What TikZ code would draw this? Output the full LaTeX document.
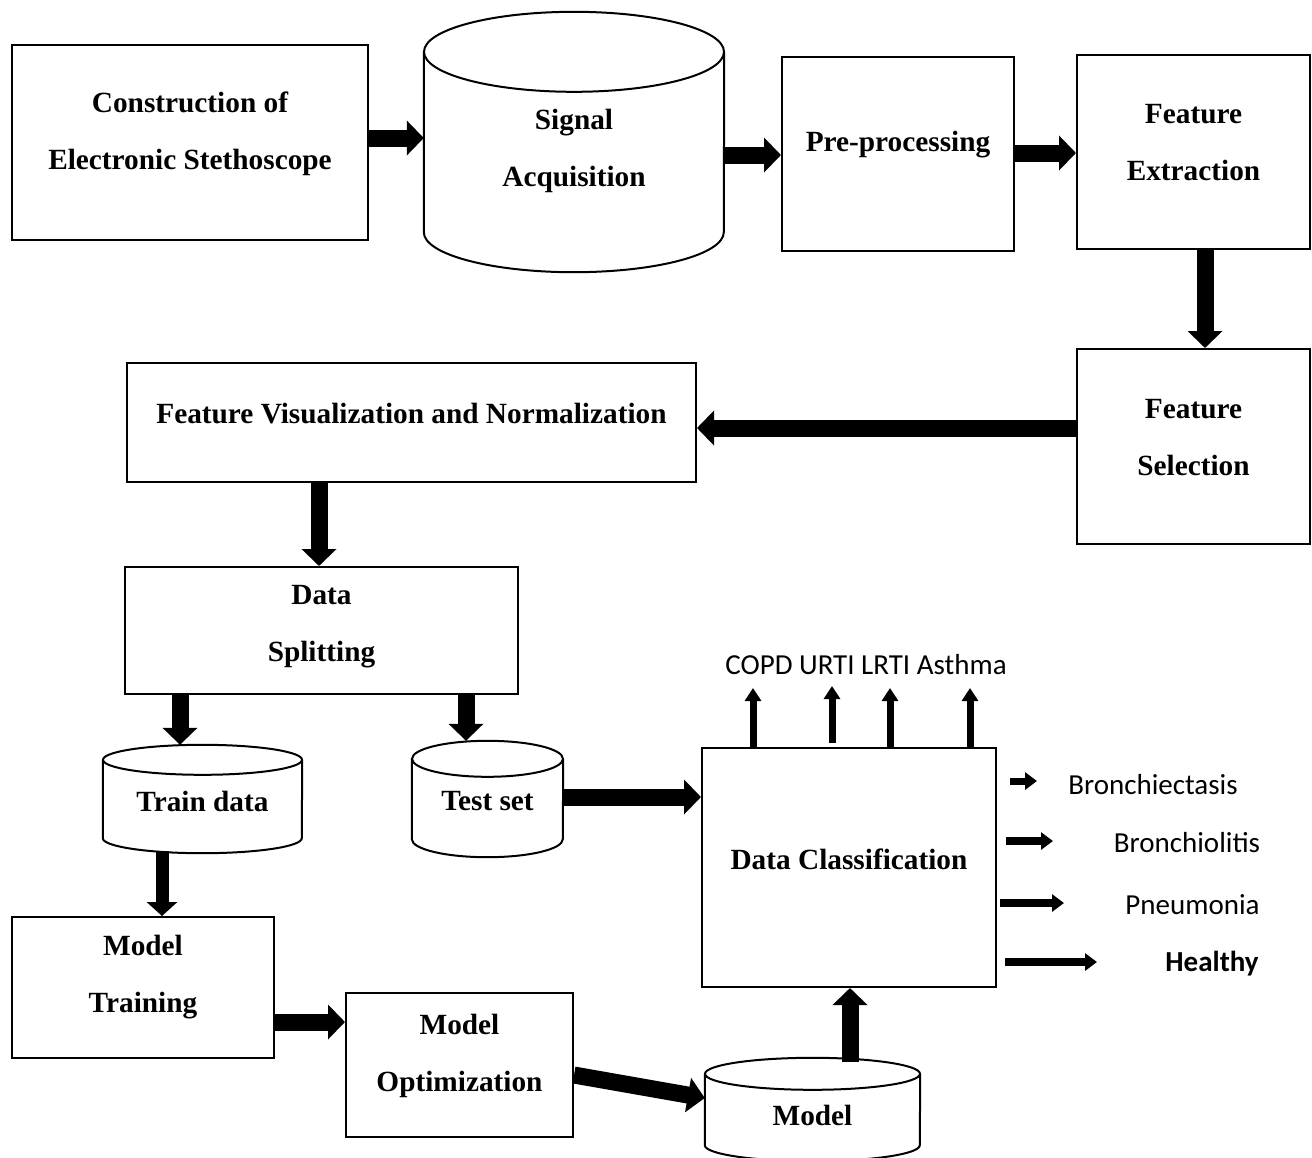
\documentclass[tikz,border=0pt]{standalone}
\usepackage{fontspec}
\setmainfont{Liberation Serif}
\newfontfamily\calfont{Carlito}
\usetikzlibrary{arrows.meta}
\newcommand\mycyl[3]{% name, ry, rx
  \draw[line width=2pt] ([yshift=-#2]#1.north west) -- ([yshift=#2]#1.south west)
    arc[start angle=180,end angle=360,x radius=#3,y radius=#2] -- ([yshift=-#2]#1.north east);
  \draw[line width=2pt] ([yshift=-#2]#1.north) ellipse [x radius=#3,y radius=#2];
}
\begin{document}
\begin{tikzpicture}[x=1pt,y=-1pt,
  box/.style={draw, line width=2pt, inner sep=0pt},
  ghost/.style={inner sep=0pt},
  txt/.style={font=\fontsize{29.3}{57}\selectfont\bfseries, align=center, inner sep=0pt},
  lab/.style={font=\fontsize{29}{34}\selectfont\calfont, inner sep=0pt, text height=18.5pt, text depth=0pt},
  blk/.style={line width=17pt, -{Triangle[width=34pt,length=17pt]}},
  blks/.style={line width=13pt, -{Triangle[width=30pt,length=14pt]}},
  upar/.style={line width=7pt, -{Triangle[width=16pt,length=13pt]}},
  rtar/.style={line width=8pt, -{Triangle[width=17pt,length=12pt]}},
]
\useasboundingbox[fill=white] (0,0) rectangle (1312,1157);

% boxes
\node[box, minimum width=356pt, minimum height=195pt] (cons) at (190,142.5) {};
\node[ghost, minimum width=300pt, minimum height=260pt] (sig) at (574,142) {};
\node[box, minimum width=232pt, minimum height=194pt] (pre) at (898,154) {};
\node[box, minimum width=233pt, minimum height=194pt] (fe) at (1193.5,152) {};
\node[box, minimum width=233pt, minimum height=195pt] (fs) at (1193.5,446.5) {};
\node[box, minimum width=569pt, minimum height=119pt] (fv) at (411.5,422.5) {};
\node[box, minimum width=393pt, minimum height=127pt] (ds) at (321.5,630.5) {};
\node[ghost, minimum width=199pt, minimum height=108pt] (train) at (202.5,799) {};
\node[ghost, minimum width=151pt, minimum height=116pt] (test) at (487.5,799) {};
\node[box, minimum width=294pt, minimum height=239pt] (dc) at (849,867.5) {};
\node[box, minimum width=262pt, minimum height=141pt] (mt) at (143,987.5) {};
\node[box, minimum width=227pt, minimum height=144pt] (mo) at (459.5,1065) {};
\node[ghost, minimum width=215pt, minimum height=103pt] (model) at (812.5,1109.5) {};

\mycyl{sig}{40pt}{150pt}
\mycyl{train}{15pt}{99.5pt}
\mycyl{test}{18pt}{75.5pt}
\mycyl{model}{16pt}{107.5pt}

% texts
\node[txt] (consT) at (190,134) {Construction of\\Electronic Stethoscope};
\node[txt] (sigT) at (574,151) {Signal\\Acquisition};
\node[txt] (preT) at (898,145) {Pre-processing};
\node[txt] (feT) at (1193.5,143) {Feature\\Extraction};
\node[txt] (fsT) at (1193.5,438) {Feature\\Selection};
\node[txt] (fvT) at (411.5,414) {Feature Visualization and Normalization};
\node[txt] (dsT) at (321.5,627) {Data\\Splitting};
\node[txt] (trainT) at (202.5,801) {Train data};
\node[txt] (testT) at (487.5,801) {Test set};
\node[txt] (dcT) at (849,859) {Data Classification};
\node[txt] (mtT) at (143,977) {Model\\Training};
\node[txt] (moT) at (459.5,1056) {Model\\Optimization};
\node[txt] (modelT) at (812.5,1115) {Model};

% class labels
\node[lab] (top) at (866,665) {COPD URTI LRTI Asthma};
\node[lab] (b1) at (1153,785) {Bronchiectasis};
\node[lab] (b2) at (1187,843) {Bronchiolitis};
\node[lab] (b3) at (1192.5,905) {Pneumonia};
\node[lab] (b4) at (1212,962) {\bfseries Healthy};

% main arrows
\draw[blk] (cons.east |- 0,138) -- (sig.west |- 0,138);
\draw[blk] (sig.east |- 0,155) -- (pre.west |- 0,155);
\draw[blk] (pre.east |- 0,153) -- (fe.west |- 0,153);
\draw[blk] (fe.south -| 1205,0) -- (fs.north -| 1205,0);
\draw[blk] (fs.west |- 0,428) -- (fv.east |- 0,428);
\draw[blk] (fv.south -| 319,0) -- (ds.north -| 319,0);
\draw[blk] (ds.south -| 180,0) -- (train.north -| 180,0);
\draw[blk] (ds.south -| 466,0) -- (test.north -| 466,0);
\draw[blks] ([yshift=2pt]train.south -| 162,0) -- (mt.north -| 162,0);
\draw[blk] (test.east |- 0,797) -- (dc.west |- 0,797);
\draw[blk] (mt.east |- 0,1022) -- (mo.west |- 0,1022);
\draw[blk] (mo.east |- 0,1075) -- (model.west |- 0,1098);
\draw[blk] ([yshift=-4pt]model.north -| 850,0) -- (dc.south -| 850,0);

% up arrows
\coordinate (u1) at (753,688);
\coordinate (u2) at (832,686);
\coordinate (u3) at (890,688);
\coordinate (u4) at (970,688);
\draw[upar] (dc.north -| u1) -- (u1);
\draw[upar] ([yshift=4pt]dc.north -| u2) -- (u2);
\draw[upar] (dc.north -| u3) -- (u3);
\draw[upar] (dc.north -| u4) -- (u4);

% right arrows
\coordinate (r1a) at (1010,781); \coordinate (r1b) at (1037,781);
\coordinate (r2a) at (1006,841); \coordinate (r2b) at (1053,841);
\coordinate (r3a) at (1000,903); \coordinate (r3b) at (1064,903);
\coordinate (r4a) at (1005,962); \coordinate (r4b) at (1097,962);
\draw[rtar, line width=7pt] (r1a) -- (r1b);
\draw[rtar] (r2a) -- (r2b);
\draw[rtar] (r3a) -- (r3b);
\draw[rtar] (r4a) -- (r4b);
\end{tikzpicture}
\end{document}
